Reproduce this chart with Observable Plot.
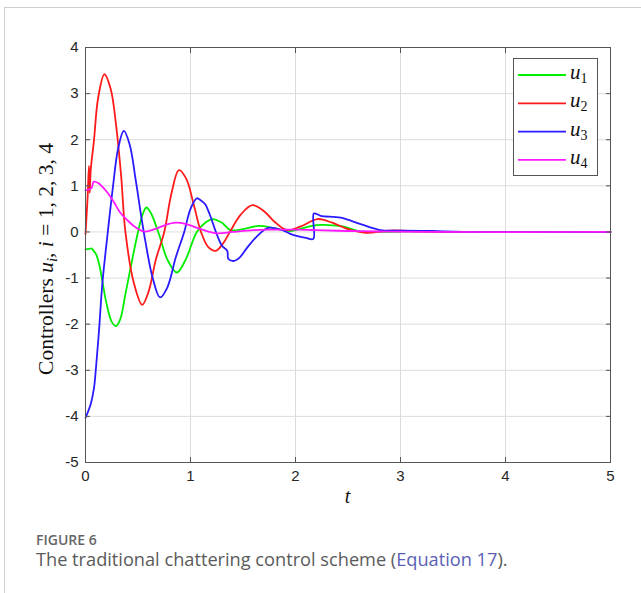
<!DOCTYPE html>
<html>
<head>
<meta charset="utf-8">
<script src="https://cdn.jsdelivr.net/npm/d3@7"></script>
<script src="https://cdn.jsdelivr.net/npm/@observablehq/plot@0.6"></script>
<style>
  html, body { margin: 0; padding: 0; background: #fff; }
  #wrap { position: relative; width: 641px; height: 593px; overflow: hidden; }
  #card { position: absolute; left: 4px; top: 7px; right: -2px; bottom: -2px; border-left: 1px solid #cfcfcf; border-top: 1px solid #cfcfcf; }
  #chart { position: absolute; left: 0; top: 0; }
  #fig { position: absolute; left: 36px; top: 534px; line-height: 12px; font-family: "Open Sans", "Noto Sans", sans-serif; font-size: 14px; color: #666; font-weight: 600; white-space: nowrap; }
  #cap { position: absolute; left: 36px; top: 551px; line-height: 16px; font-family: "Open Sans", "Noto Sans", sans-serif; font-size: 18.2px; color: #5a5a5a; white-space: nowrap; }
  #cap span { color: #5b5fb5; }
  svg g[aria-label$="tick label"] text { font-size: 15px; font-family: 'Liberation Sans', Arial, sans-serif; fill: #262626; }
</style>
</head>
<body>
<div id="wrap">
  <div id="card"></div>
  <div id="chart"></div>
  <div id="fig">FIGURE 6</div>
  <div id="cap">The traditional chattering control scheme (<span>Equation 17</span>).</div>
</div>
<script>
const xTicks = [0, 1, 2, 3, 4, 5];
const yTicks = [-5, -4, -3, -2, -1, 0, 1, 2, 3, 4];

const seriesNames = ["u1", "u2", "u3", "u4"];
const seriesSubs = ["1", "2", "3", "4"];
const seriesColors = ["#00ee00", "#ff1a1a", "#2a1aff", "#ff19ff"];

const t1 = [0, 0.03, 0.06, 0.08, 0.1, 0.13, 0.16, 0.2, 0.25, 0.29, 0.33, 0.38, 0.43, 0.5, 0.54, 0.58, 0.62, 0.7, 0.78, 0.87, 0.95, 1.06, 1.14, 1.21, 1.3, 1.38, 1.5, 1.65, 1.8, 1.95, 2.1, 2.2, 2.3, 2.45, 2.6, 2.8, 3.0, 3.5, 4, 5];
const u1 = [-0.38, -0.37, -0.36, -0.42, -0.48, -0.7, -1.06, -1.55, -1.95, -2.04, -1.9, -1.35, -0.77, 0.0, 0.35, 0.53, 0.42, -0.05, -0.6, -0.88, -0.62, 0.0, 0.2, 0.28, 0.2, 0.04, 0.06, 0.13, 0.08, 0.02, 0.1, 0.15, 0.15, 0.12, 0.02, 0.0, 0.01, 0, 0, 0];

const t2 = [0, 0.02, 0.033, 0.04, 0.05, 0.08, 0.12, 0.18, 0.24, 0.29, 0.34, 0.38, 0.46, 0.54, 0.6, 0.67, 0.75, 0.82, 0.89, 0.96, 1.03, 1.1, 1.17, 1.24, 1.31, 1.38, 1.48, 1.59, 1.7, 1.8, 1.92, 2.05, 2.21, 2.35, 2.5, 2.67, 2.9, 3.1, 3.5, 5];
const u2 = [-0.05, 0.75, 1.43, 0.85, 1.35, 1.97, 2.9, 3.42, 3.1, 2.34, 1.2, 0.0, -1.1, -1.58, -1.3, -0.6, 0.0, 0.85, 1.34, 1.15, 0.6, 0.0, -0.33, -0.41, -0.25, 0.02, 0.38, 0.58, 0.45, 0.22, 0.04, 0.12, 0.28, 0.2, 0.06, -0.02, 0.03, 0.02, 0, 0];

const t3 = [0, 0.05, 0.08, 0.1, 0.13, 0.16, 0.21, 0.26, 0.31, 0.365, 0.42, 0.48, 0.53, 0.57, 0.64, 0.71, 0.78, 0.86, 0.94, 1.0, 1.06, 1.1, 1.14, 1.18, 1.25, 1.3, 1.35, 1.36, 1.41, 1.47, 1.54, 1.64, 1.74, 1.86, 1.95, 2.02, 2.1, 2.17, 2.175, 2.24, 2.43, 2.62, 2.81, 3.0, 3.3, 3.6, 5];
const u3 = [-4.03, -3.73, -3.4, -2.94, -2.1, -1.13, -0.05, 0.95, 1.8, 2.19, 1.9, 1.1, 0.35, -0.2, -1.0, -1.42, -1.2, -0.55, 0.0, 0.5, 0.73, 0.68, 0.6, 0.4, -0.05, -0.3, -0.41, -0.58, -0.63, -0.55, -0.34, -0.08, 0.09, 0.05, -0.04, -0.09, -0.13, -0.15, 0.4, 0.35, 0.31, 0.17, 0.04, 0.03, 0.02, 0, 0];

const t4 = [0, 0.03, 0.06, 0.07, 0.08, 0.12, 0.21, 0.27, 0.33, 0.4, 0.46, 0.56, 0.66, 0.76, 0.86, 0.96, 1.1, 1.25, 1.4, 1.6, 1.8, 2.0, 2.2, 2.5, 2.8, 3.2, 5];
const u4 = [0.9, 0.92, 0.96, 1.05, 1.09, 1.06, 0.85, 0.65, 0.42, 0.25, 0.13, 0.01, 0.06, 0.15, 0.2, 0.17, 0.06, -0.03, 0.0, 0.04, 0.05, 0.05, 0.04, 0.02, 0.01, 0, 0];

const ts = [t1, t2, t3, t4];
const us = [u1, u2, u3, u4];
const data = [];
seriesNames.forEach((s, k) => ts[k].forEach((t, i) => data.push({series: s, t, u: us[k][i]})));

const sans = "'Liberation Sans', Arial, Helvetica, sans-serif";
const W = 641, H = 510;
const plot = Plot.plot({
  width: W, height: H,
  marginLeft: 85, marginRight: 31, marginTop: 47, marginBottom: 48,
  style: {fontFamily: sans, fontSize: "15px", color: "#262626", background: "transparent"},
  x: {domain: [0, 5]},
  y: {domain: [-5, 4]},
  color: {domain: seriesNames, range: seriesColors},
  marks: [
    Plot.gridX(xTicks, {stroke: "#dcdcdc", strokeOpacity: 1, strokeWidth: 1}),
    Plot.gridY(yTicks, {stroke: "#dcdcdc", strokeOpacity: 1, strokeWidth: 1}),
    Plot.line(data, {x: "t", y: "u", z: "series", stroke: "series", strokeWidth: 1.8, curve: "catmull-rom"}),
    Plot.axisX(xTicks, {anchor: "bottom", tickSize: 0, tickPadding: 8, label: null, fontSize: 15, tickFormat: d => String(d)}),
    Plot.axisY(yTicks, {anchor: "left", tickSize: 0, tickPadding: 7, label: null, fontSize: 15, tickFormat: d => String(d)}),
    Plot.axisX(xTicks, {anchor: "bottom", tickSize: -5, tickFormat: () => "", label: null, stroke: "#555"}),
    Plot.axisX(xTicks, {anchor: "top", tickSize: -5, tickFormat: () => "", label: null, stroke: "#555"}),
    Plot.axisY(yTicks, {anchor: "left", tickSize: -5, tickFormat: () => "", label: null, stroke: "#555"}),
    Plot.axisY(yTicks, {anchor: "right", tickSize: -5, tickFormat: () => "", label: null, stroke: "#555"}),
    Plot.frame({stroke: "#555", strokeWidth: 1})
  ]
});
document.getElementById("chart").appendChild(plot);

const svg = d3.select(plot);
const xs = plot.scale("x"), ys = plot.scale("y");
const serif = "'Liberation Serif', 'DejaVu Serif', serif";

// y-axis label
const yl = svg.append("text")
  .attr("transform", `translate(53,259) rotate(-90)`)
  .attr("text-anchor", "middle")
  .attr("font-family", serif).attr("font-size", 21.5).attr("fill", "#111");
yl.append("tspan").text("Controllers ");
yl.append("tspan").attr("font-style", "italic").text("u");
yl.append("tspan").attr("font-style", "italic").attr("font-size", 15).attr("dy", 4).text("i");
yl.append("tspan").attr("dy", -4).text(", ");
yl.append("tspan").attr("font-style", "italic").text("i");
yl.append("tspan").text(" = 1, 2, 3, 4");

// x-axis label
svg.append("text")
  .attr("x", (xs.apply(0) + xs.apply(5)) / 2).attr("y", 503)
  .attr("text-anchor", "middle").attr("font-family", serif).attr("font-style", "italic")
  .attr("font-size", 20).attr("fill", "#111").text("t");

// legend
const lg = svg.append("g");
lg.append("rect").attr("x", 513.5).attr("y", 58.5).attr("width", 84).attr("height", 117)
  .attr("fill", "#fff").attr("stroke", "#555").attr("stroke-width", 1);
seriesNames.forEach((s, i) => {
  const y = 75 + i * 28.3;
  lg.append("line").attr("x1", 518).attr("x2", 566).attr("y1", y).attr("y2", y)
    .attr("stroke", seriesColors[i]).attr("stroke-width", 1.8);
  const tx = lg.append("text").attr("x", 570).attr("y", y + 4).attr("text-anchor", "start")
    .attr("font-family", serif).attr("font-size", 21).attr("fill", "#111");
  tx.append("tspan").attr("font-style", "italic").text("u");
  tx.append("tspan").attr("font-size", 14).attr("dy", 4).text(seriesSubs[i]);
});
</script>
</body>
</html>
